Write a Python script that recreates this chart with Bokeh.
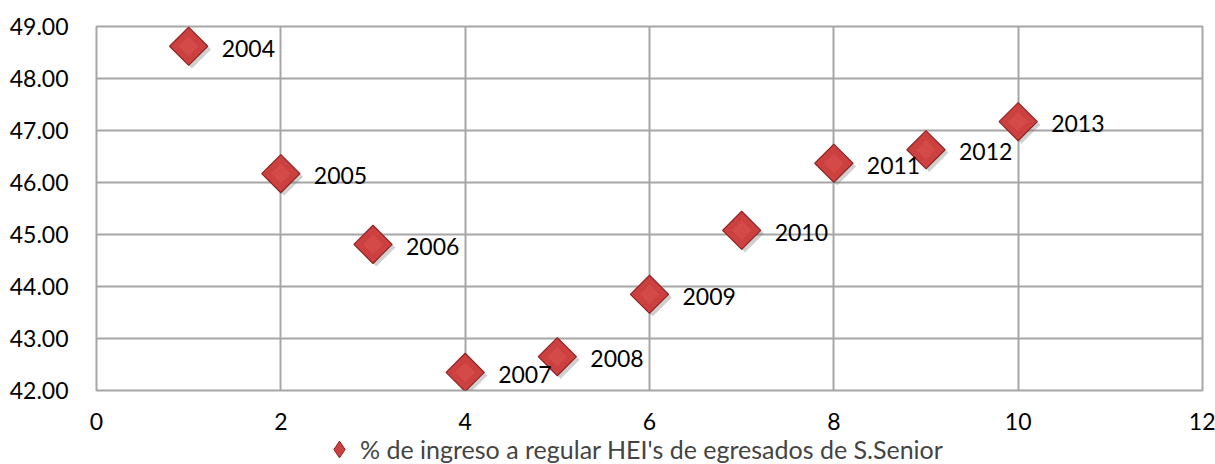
import numpy as np
from bokeh.plotting import figure
from bokeh.layouts import column
from bokeh.models import (ColumnDataSource, Legend, LegendItem, FixedTicker, Range1d,
                          NumeralTickFormatter)
from bokeh.core.properties import value
from bokeh.transform import dodge
from bokeh.embed import file_html
from bokeh.resources import INLINE

# ---- data ----
x_vals = [1, 2, 3, 4, 5, 6, 7, 8, 9, 10]
y_vals = [48.62, 46.17, 44.81, 42.35, 42.65, 43.85, 45.08, 46.37, 46.63, 47.17]
years = ["2004", "2005", "2006", "2007", "2008", "2009", "2010", "2011", "2012", "2013"]
series_name = "% de ingreso a regular HEI's de egresados de S.Senior"
x_ticks = [0, 2, 4, 6, 8, 10, 12]
y_ticks = [42, 43, 44, 45, 46, 47, 48, 49]

FONT = "Lato"
GRID = "#a6a6a6"
FILL = "#cc4040"
EDGE = "#8e2424"

src = ColumnDataSource(dict(x=x_vals, y=y_vals, label=years))

# ---------------- main chart ----------------
p = figure(width=1215, height=434, output_backend="svg", toolbar_location=None,
           x_range=Range1d(0, 12), y_range=Range1d(42, 49),
           min_border_left=96, min_border_right=13, min_border_top=26, min_border_bottom=44)

p.background_fill_color = "white"
p.border_fill_color = "white"
p.outline_line_color = GRID
p.outline_line_width = 2

for ax in (p.xaxis[0], p.yaxis[0]):
    ax.axis_line_color = None
    ax.major_tick_line_color = None
    ax.minor_tick_line_color = None
    ax.major_label_text_font = FONT
    ax.major_label_text_font_size = "23px"
    ax.major_label_text_color = "black"
p.xaxis.ticker = FixedTicker(ticks=x_ticks)
p.yaxis.ticker = FixedTicker(ticks=y_ticks)
p.yaxis.formatter = NumeralTickFormatter(format="0.00")
p.xaxis.major_label_standoff = 16
p.yaxis.major_label_standoff = 22

p.xgrid.ticker = FixedTicker(ticks=x_ticks)
p.ygrid.ticker = FixedTicker(ticks=y_ticks)
for g in (p.xgrid[0], p.ygrid[0]):
    g.grid_line_color = GRID
    g.grid_line_width = 2

# shadow
p.scatter(x=dodge("x", 0.035, range=p.x_range), y=dodge("y", -0.06, range=p.y_range), source=src,
          marker="square", angle=np.pi / 4, size=27, fill_color="#777777", fill_alpha=0.35,
          line_color=None)
# markers
p.scatter(x="x", y="y", source=src, marker="square", angle=np.pi / 4, size=27,
          fill_color=FILL, line_color=EDGE, line_width=1.2)
p.scatter(x="x", y="y", source=src, marker="square", angle=np.pi / 4, size=14,
          fill_color="#d9534f", fill_alpha=0.5, line_color=None)

# year labels
p.text(x="x", y="y", text="label", source=src, x_offset=33, y_offset=2,
       text_align="left", text_baseline="middle", text_font=value(FONT),
       text_font_size="23px", text_color="black")

# ---------------- legend strip ----------------
p2 = figure(width=1215, height=30, output_backend="svg", toolbar_location=None,
            x_range=Range1d(0, 1), y_range=Range1d(0, 1),
            min_border=0, min_border_left=0, min_border_right=0,
            min_border_top=0, min_border_bottom=0)
p2.axis.visible = False
p2.grid.visible = False
p2.outline_line_color = None
p2.background_fill_color = "white"
p2.border_fill_color = "white"
# same series; its points fall outside this strip's ranges, only its legend glyph shows
leg_r = p2.scatter(x="x", y="y", source=src, marker="diamond",
                   fill_color=FILL, line_color=EDGE, line_width=1)

legend = Legend(items=[LegendItem(label=series_name, renderers=[leg_r])],
                orientation="horizontal", location=(222, -6),
                border_line_color=None, background_fill_alpha=0,
                label_text_font=FONT, label_text_font_size="25px",
                glyph_width=42, glyph_height=42, padding=0, margin=0,
                label_standoff=0)
p2.add_layout(legend, "center")

layout = column(p, p2, spacing=0)
open("out.html", "w").write(file_html(layout, INLINE))
